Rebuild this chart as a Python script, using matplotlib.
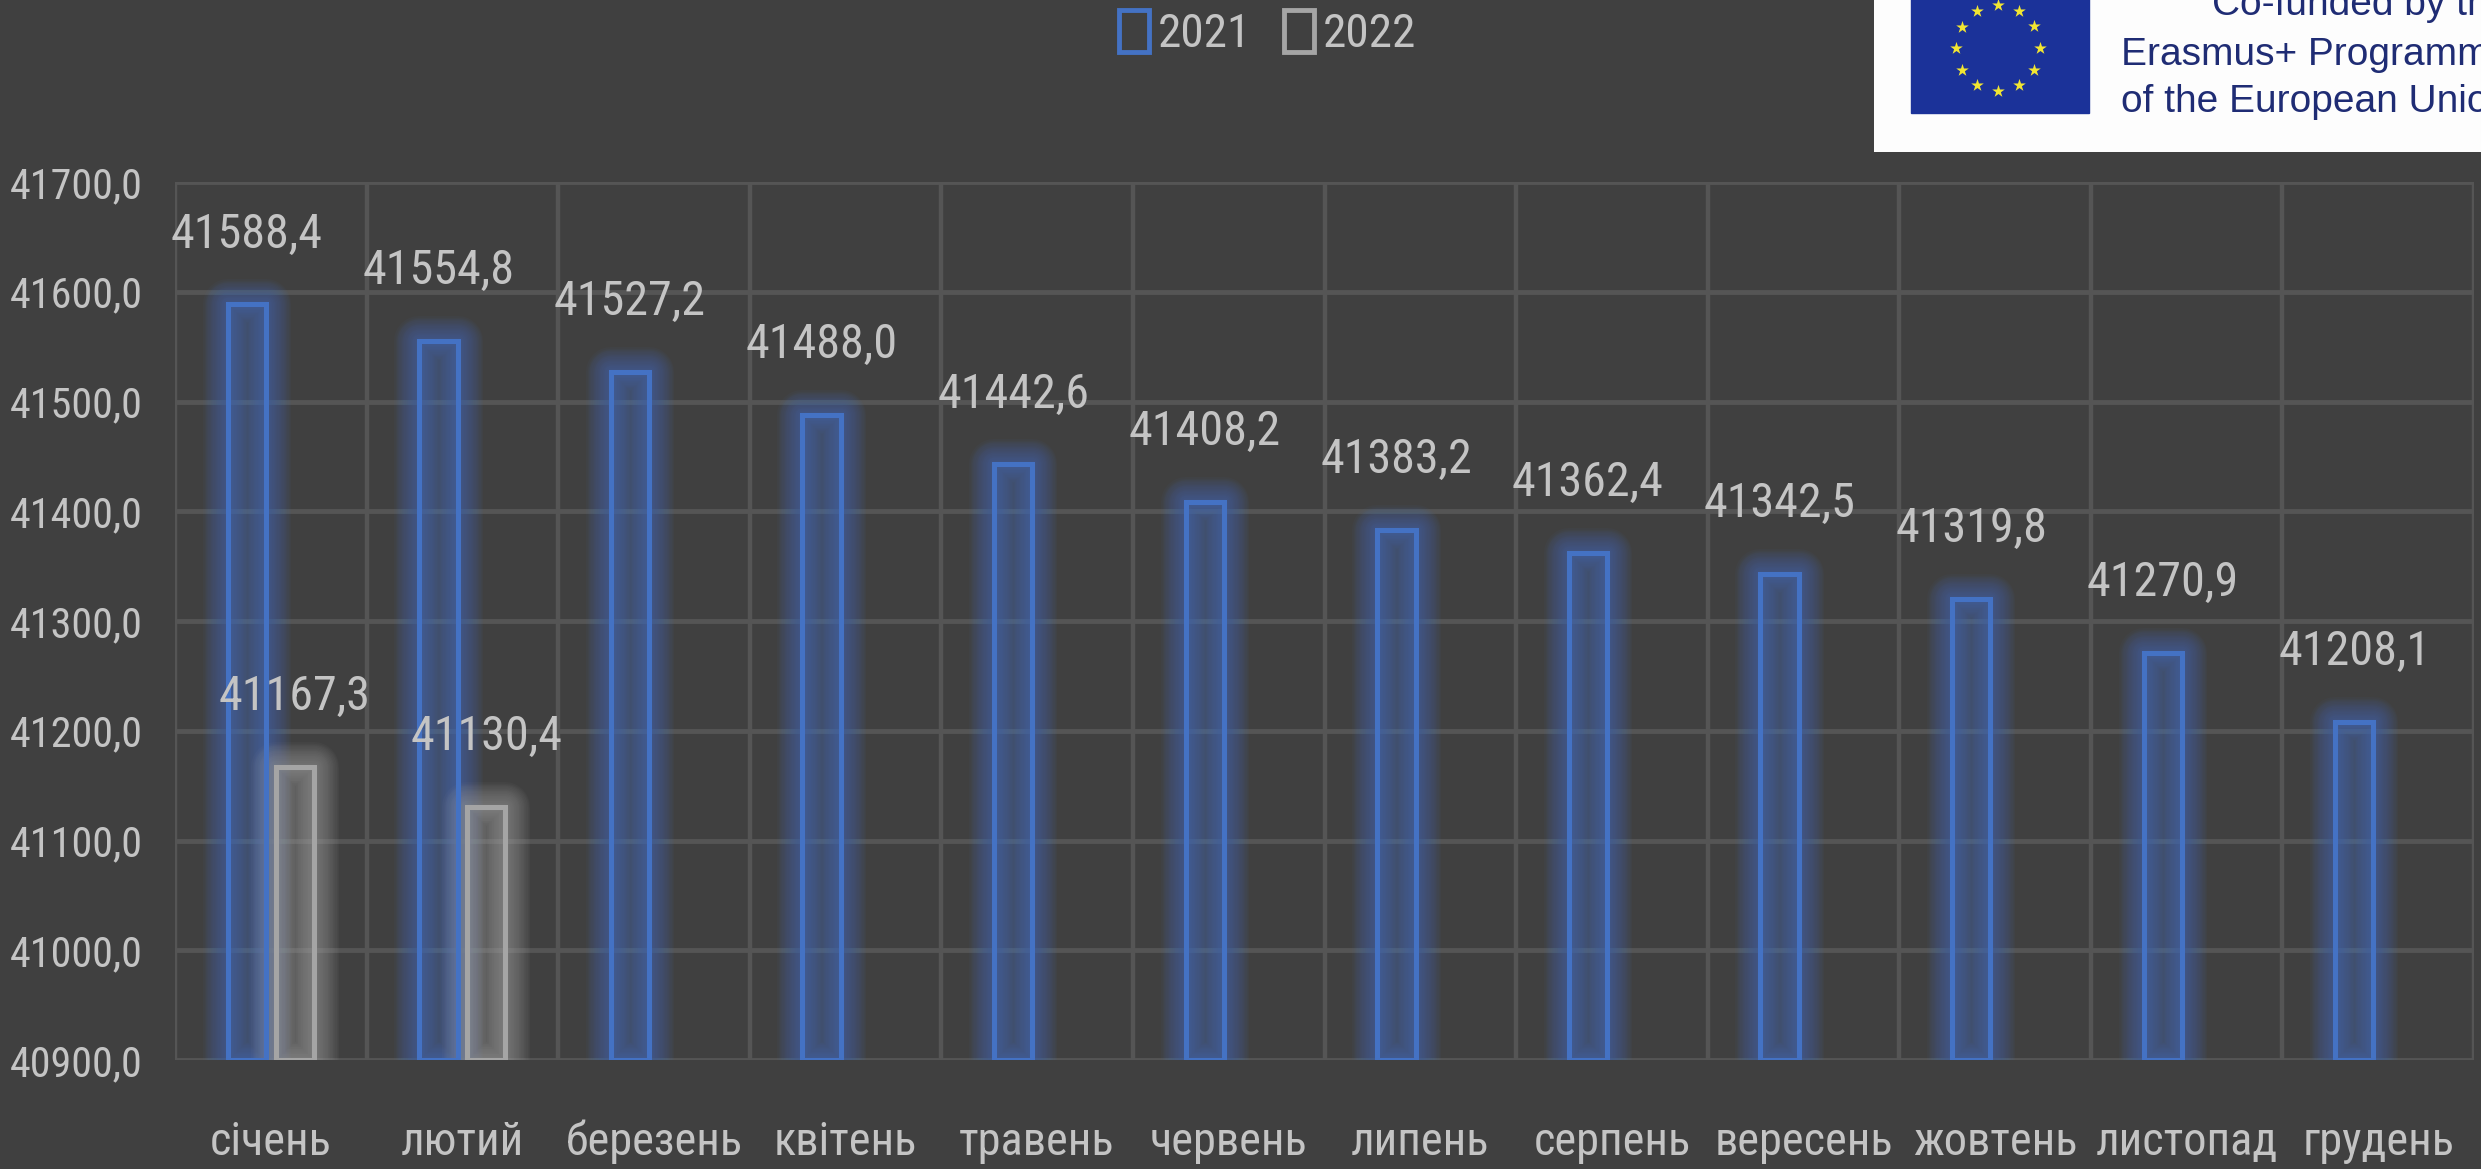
import numpy as np
import matplotlib
matplotlib.use("Agg")
import matplotlib.pyplot as plt
from matplotlib import font_manager as fm
from matplotlib.patches import Patch, Rectangle
from matplotlib.ticker import FuncFormatter, FixedLocator
from matplotlib.textpath import TextPath

months = ['січень', 'лютий', 'березень', 'квітень', 'травень', 'червень',
          'липень', 'серпень', 'вересень', 'жовтень', 'листопад', 'грудень']
values_2021 = [41588.4, 41554.8, 41527.2, 41488.0, 41442.6, 41408.2,
               41383.2, 41362.4, 41342.5, 41319.8, 41270.9, 41208.1]
values_2022 = [41167.3, 41130.4]
series_names = ['2021', '2022']
y_min, y_max, y_step = 40900, 41700, 100

BG = '#404040'
GRID = '#555555'
TXT = '#c4c4c4'
BLUE = '#4472c4'
GREY = '#a5a5a5'

# the original uses a narrow font; pick a condensed face if one is installed
narrow = None
for pref in ['Roboto', 'Noto Sans', 'DejaVu Sans', 'Open Sans', 'Liberation']:
    for f in fm.fontManager.ttflist:
        is_narrow = (f.stretch in ('condensed', 'semi-condensed', 'extra-condensed')
                     or 'Condensed' in f.name or 'Narrow' in f.name)
        if is_narrow and f.name.startswith(pref) and f.style == 'normal' \
                and f.weight in (400, 'normal', 'regular'):
            narrow = f
            break
    if narrow:
        break
if narrow:
    plt.rcParams['font.family'] = [narrow.name, 'DejaVu Sans']
    plt.rcParams['font.stretch'] = narrow.stretch
else:
    plt.rcParams['font.family'] = ['DejaVu Sans']
fp = fm.FontProperties()


def fit_size(sample, target_px, base=33, limit=None):
    # font size whose sample text is target_px wide (text in the original is
    # taller than wide, so allow a little extra)
    w = TextPath((0, 0), sample, size=base, prop=fp).get_extents().width * 100 / 72
    s = 1.08 * base * target_px / w
    return min(s, limit) if limit else s


lbl_size = fit_size('41588,4', 138, limit=35)
tick_size = fit_size('41700,0', 120, limit=31)
month_size = fit_size('березень', 160, limit=34)
leg_size = fit_size('2021', 82, limit=34)

W, H = 2481, 1169
fig = plt.figure(figsize=(W / 100, H / 100), dpi=100, facecolor=BG)
ax = fig.add_axes([175 / W, 1 - 1060 / H, (2474 - 175) / W, (1060 - 182) / H])
ax.set_facecolor(BG)

bw = 0.2
off = 0.125


def glow_bars(xs, vals, color, face):
    heights = [v - y_min for v in vals]
    # soft halo: stacked wide translucent outlines
    for lw in np.linspace(5, 36, 18):
        ax.bar(xs, heights, bw, bottom=y_min, color='none', edgecolor=color,
               linewidth=lw, alpha=0.045, joinstyle='round', zorder=2)
    ax.bar(xs, heights, bw, bottom=y_min, color=face, edgecolor=color,
           linewidth=3.6, zorder=3)


x = np.arange(len(months))
glow_bars(x - off, values_2021, BLUE, (0.267, 0.447, 0.769, 0.2))
x2 = np.arange(len(values_2022))
glow_bars(x2 + off, values_2022, GREY, (0.65, 0.65, 0.65, 0.16))

fmt = lambda v: f"{v:.1f}".replace('.', ',')
for xi, v in zip(x - off, values_2021):
    ax.annotate(fmt(v), (xi, v), xytext=(0, 70), textcoords='offset pixels',
                ha='center', va='center', color=TXT, fontsize=lbl_size, zorder=5)
for xi, v in zip(x2 + off, values_2022):
    ax.annotate(fmt(v), (xi, v), xytext=(0, 70), textcoords='offset pixels',
                ha='center', va='center', color=TXT, fontsize=lbl_size, zorder=5)

ax.set_xlim(-0.5, len(months) - 0.5)
ax.set_ylim(y_min, y_max)
ax.set_yticks(np.arange(y_min, y_max + 1, y_step))
ax.yaxis.set_major_formatter(FuncFormatter(lambda v, p: fmt(v)))
ax.set_xticks(x)
ax.set_xticklabels(months)
ax.xaxis.set_minor_locator(FixedLocator(np.arange(-0.5, len(months), 1)))
ax.tick_params(axis='both', which='both', length=0, colors=TXT)
ax.tick_params(axis='y', labelsize=tick_size, pad=23)
ax.tick_params(axis='x', labelsize=month_size, pad=43)
ax.grid(axis='y', which='major', color=GRID, linewidth=3.5, zorder=0)
ax.grid(axis='x', which='minor', color=GRID, linewidth=3.2, zorder=0)
ax.set_axisbelow(True)
for s in ax.spines.values():
    s.set_visible(False)

handles = [Patch(facecolor='none', edgecolor=BLUE, linewidth=3.5),
           Patch(facecolor='none', edgecolor=GREY, linewidth=3.5)]
fig.legend(handles, series_names, loc='upper center', bbox_to_anchor=(0.511, 1.028),
           ncol=2, frameon=False, fontsize=leg_size, labelcolor=TXT,
           handlelength=0.62, handleheight=1.0, handletextpad=0.2,
           columnspacing=0.7)

# Erasmus+ logo in the top right corner
lg = fig.add_axes([1874 / W, 1 - 152 / H, (W - 1874) / W, 152 / H])
lg.set_xlim(1874, W)
lg.set_ylim(152, 0)
lg.set_facecolor('#fdfdfd')
lg.set_xticks([])
lg.set_yticks([])
for s in lg.spines.values():
    s.set_visible(False)
lg.add_patch(Rectangle((1911, -5), 178, 118, color='#1b3299'))
ang = np.arange(12) * np.pi / 6
lg.scatter(1998 + 42 * np.cos(ang), 48 + 43 * np.sin(ang), marker='*', s=90,
           color='#f2e632', linewidths=0)
logo_font = dict(family=['Liberation Sans', 'DejaVu Sans'], fontsize=28,
                 color='#1f2c74', va='baseline', ha='left')
lg.text(2212, 15, 'Co-funded by the', **logo_font)
lg.text(2121, 65, 'Erasmus+ Programme', **logo_font)
lg.text(2121, 112, 'of the European Union', **logo_font)

fig.savefig('out.png', dpi=100, facecolor=BG)
